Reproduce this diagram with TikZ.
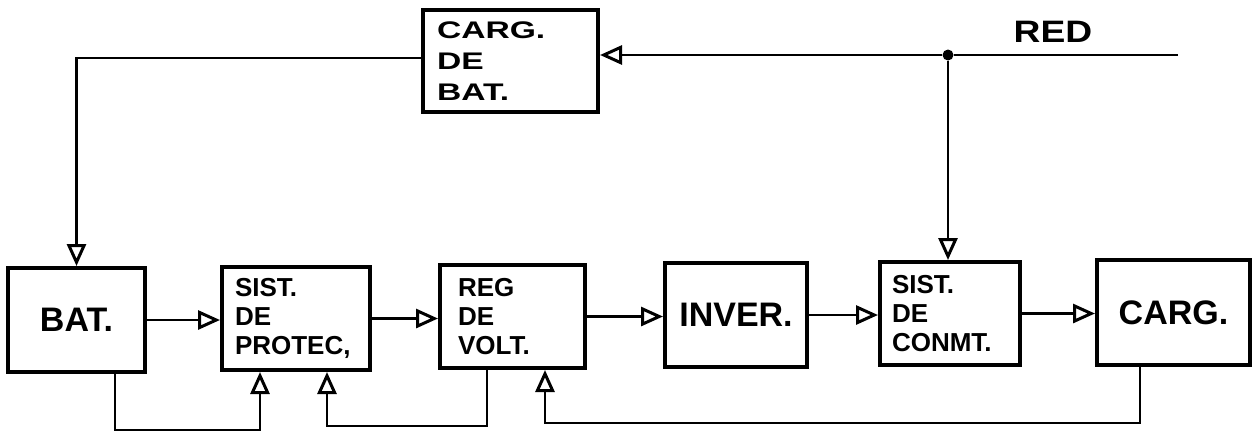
\documentclass[tikz,border=0pt]{standalone}
\usepackage{fontspec}
\setmainfont{Liberation Sans}
\newfontfamily\widefont[FakeStretch=1.2]{Liberation Sans}
\newfontfamily\widerfont[FakeStretch=1.4]{Liberation Sans}
\usetikzlibrary{arrows.meta}
\begin{document}
\begin{tikzpicture}[x=1pt,y=-1pt,
  box/.style 2 args={draw, line width=4pt, minimum width=#1, minimum height=#2, inner sep=0pt},
  mbox/.style n args={3}{box={#1}{#2}, text width=#3, inner xsep=14pt, align=left,
      font=\bfseries\fontsize{26}{29}\selectfont},
  big/.style={font=\bfseries\fontsize{34}{40}\selectfont},
  wire/.style={line width=2.8pt},
  arr/.style={wire, -{Triangle[open, length=22pt, width=19pt, line width=3pt]}}]
\useasboundingbox (0,0) rectangle (1258,432);
\fill[white] (0,0) rectangle (1258,432);

% blocks
\node[mbox={175pt}{102pt}{147pt}, font=\widerfont\bfseries\fontsize{24}{31}\selectfont] (cdb) at (510.5,61) {CARG.\\DE\\BAT.};
\node[box={137pt}{104pt}, big] (bat) at (76.5,320) {BAT.};
\node[mbox={148pt}{103pt}{122pt}, inner xsep=13pt] (prot) at (296,318.5) {SIST.\\DE\\PROTEC,};
\node[mbox={145pt}{103pt}{109pt}, inner xsep=18pt] (reg) at (512.5,316.5) {REG\\DE\\VOLT.};
\node[box={142pt}{104pt}, font=\bfseries\fontsize{34}{40}\selectfont] (inv) at (736,315) {INVER.};
\node[mbox={140pt}{103pt}{116pt}, inner xsep=12pt] (conm) at (950,313.5) {SIST.\\DE\\CONMT.};
\node[box={153pt}{105pt}, big] (carg) at (1173.5,312.5) {CARG.};

% mains line
\node[font=\widefont\bfseries\fontsize{31}{36}\selectfont] (red) at (1053,32) {RED};
\coordinate (redR) at (1178,55);
\node[circle, fill, inner sep=0pt, minimum size=11pt] (jn) at (948,55) {};

% forward chain
\draw[arr] (bat.east) -- (bat.east -| prot.west);
\draw[arr] (prot.east) -- (prot.east -| reg.west);
\draw[arr] (reg.east) -- (reg.east -| inv.west);
\draw[arr] (inv.east) -- (inv.east -| conm.west);
\draw[arr] (conm.east) -- (conm.east -| carg.west);

% top connections
\draw[wire] (redR) -- (jn);
\draw[arr] (jn) -- (jn -| cdb.east);
\draw[arr] (jn) -- (jn |- conm.north);
\draw[arr] ([yshift=3pt]cdb.west) -| (bat.north);

% feedback lines
\draw[arr] ([xshift=38.5pt]bat.south) -- ++(0,56) -| ([xshift=-36pt]prot.south);
\draw[arr] ([xshift=-25.5pt]reg.south) -- ++(0,56) -| ([xshift=31pt]prot.south);
\draw[arr] ([xshift=-33.5pt]carg.south) -- ++(0,56) -| ([xshift=32.5pt]reg.south);
\end{tikzpicture}
\end{document}
